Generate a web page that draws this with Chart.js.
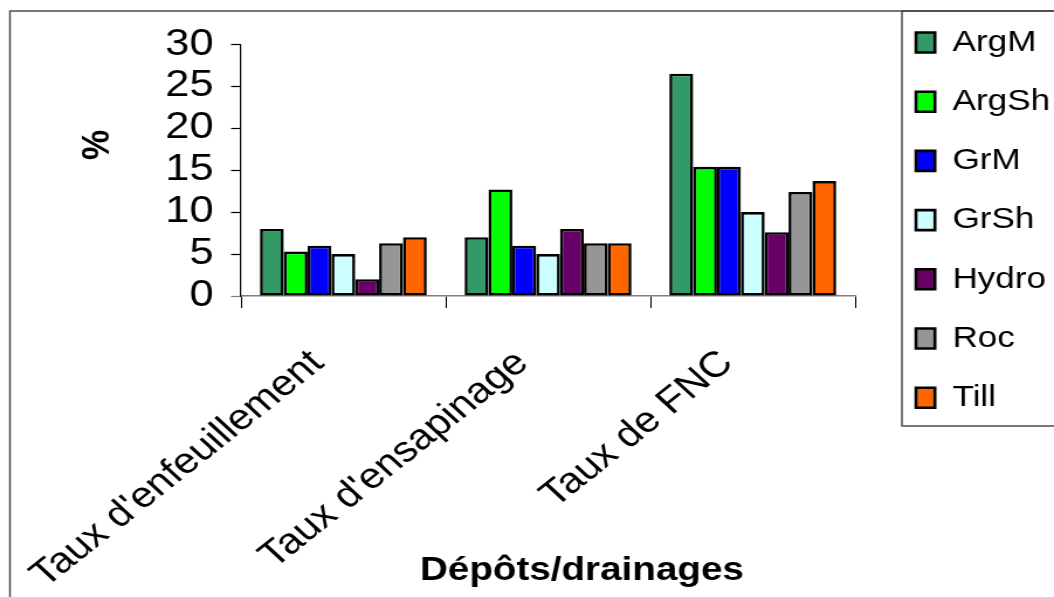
<!DOCTYPE html>
<html>
<head>
<meta charset="utf-8">
<script src="https://cdn.jsdelivr.net/npm/chart.js@4/dist/chart.umd.min.js"></script>
<style>
  html, body { margin: 0; padding: 0; background: #fff; overflow: hidden; }
</style>
</head>
<body>
<!-- drawn on a narrower canvas and widened horizontally, like the stretched original -->
<canvas id="c" width="901" height="597" style="display:block;width:1054px;height:597px;"></canvas>
<script>
// Categories and series (percent)
const categories = ["Taux d'enfeuillement", "Taux d'ensapinage", "Taux de FNC"];
const seriesNames = ['ArgM', 'ArgSh', 'GrM', 'GrSh', 'Hydro', 'Roc', 'Till'];
const argM  = [8.0, 7.0, 26.5];
const argSh = [5.3, 12.7, 15.4];
const grM   = [6.0, 6.0, 15.4];
const grSh  = [5.0, 5.0, 10.0];
const hydro = [2.0, 8.0, 7.6];
const roc   = [6.3, 6.3, 12.4];
const till  = [7.0, 6.3, 13.7];
const yTicks = [0, 5, 10, 15, 20, 25, 30];
const xTitle = 'Dépôts/drainages';
const yTitle = '%';

const seriesValues = [argM, argSh, grM, grSh, hydro, roc, till];
const seriesColors = ['#339966', '#00ff00', '#0000ff', '#ccffff', '#660066', '#969696', '#ff6600'];

const FONT = '"Liberation Sans", Arial, sans-serif';

const datasets = seriesNames.map((name, i) => ({
  label: name,
  data: seriesValues[i],
  backgroundColor: seriesColors[i],
  borderColor: '#000000',
  borderWidth: 2.6,
  borderSkipped: false,
  inflateAmount: 0,
  categoryPercentage: 0.815,
  barPercentage: 1.0
}));

// Frames, legend placement and axis titles
const decor = {
  id: 'decor',
  afterLayout(chart) {
    const lg = chart.legend;
    lg.left = 753.8;
    lg.width = 300;
    lg.right = lg.left + lg.width;
    const dy = -1.7 - lg.top;
    lg.top += dy; lg.bottom += dy;
  },
  beforeDraw(chart) {
    const ctx = chart.ctx;
    ctx.save();
    ctx.fillStyle = '#fff';
    ctx.fillRect(0, 0, chart.width, chart.height);
    ctx.strokeStyle = '#404040';
    ctx.lineWidth = 1.4;
    ctx.strokeRect(8.5, 11, 1200, 1200);
    ctx.strokeRect(771, 11, 600, 415);
    ctx.restore();
  },
  afterDraw(chart) {
    const ctx = chart.ctx;
    ctx.save();
    ctx.fillStyle = '#000';
    ctx.font = 'bold 33px ' + FONT;
    ctx.textAlign = 'center';
    ctx.textBaseline = 'alphabetic';
    ctx.fillText(xTitle, 497.4, 580);
    ctx.translate(84, 145);
    ctx.rotate(-Math.PI / 2);
    ctx.font = 'bold 34px ' + FONT;
    ctx.textBaseline = 'middle';
    ctx.fillText(yTitle, 0, 0);
    ctx.restore();
  }
};

new Chart(document.getElementById('c'), {
  type: 'bar',
  data: { labels: categories, datasets },
  options: {
    responsive: false,
    animation: false,
    devicePixelRatio: 1,
    layout: { padding: { top: 44.3, left: 0, right: 70, bottom: 0 }, autoPadding: false },
    plugins: {
      legend: {
        position: 'right',
        align: 'start',
        maxWidth: 100,
        labels: {
          font: { family: FONT, size: 30 },
          color: '#000',
          boxWidth: 16.2,
          boxHeight: 20,
          padding: 29.2
        }
      },
      tooltip: { enabled: false },
      title: { display: false }
    },
    scales: {
      x: {
        afterFit(scale) { scale.height = 301; scale.paddingLeft = 0; scale.paddingRight = 0; },
        grid: {
          offset: true,
          drawOnChartArea: false,
          drawTicks: true,
          tickLength: 12,
          tickColor: '#000',
          tickWidth: 1
        },
        border: { display: true, color: '#808080', width: 1.5 },
        ticks: {
          font: { family: FONT, size: 36 },
          color: '#000',
          minRotation: 43,
          maxRotation: 43,
          autoSkip: false,
          padding: 34,
          labelOffset: -22
        }
      },
      y: {
        min: 0,
        max: 30,
        afterFit(scale) { scale.width = 206; scale.paddingTop = 0; scale.paddingBottom = 0; },
        afterBuildTicks(scale) { scale.ticks = yTicks.map(v => ({ value: v })); },
        grid: {
          drawOnChartArea: false,
          drawTicks: true,
          tickLength: 8.5,
          tickColor: (c) => (c.tick && c.tick.value === 0 ? '#808080' : '#000'),
          tickWidth: 1.2
        },
        border: { display: true, color: '#000', width: 1.2 },
        ticks: {
          font: { family: FONT, size: 37 },
          color: '#000',
          padding: 15,
          autoSkip: false
        }
      }
    }
  },
  plugins: [decor]
});
</script>
</body>
</html>
